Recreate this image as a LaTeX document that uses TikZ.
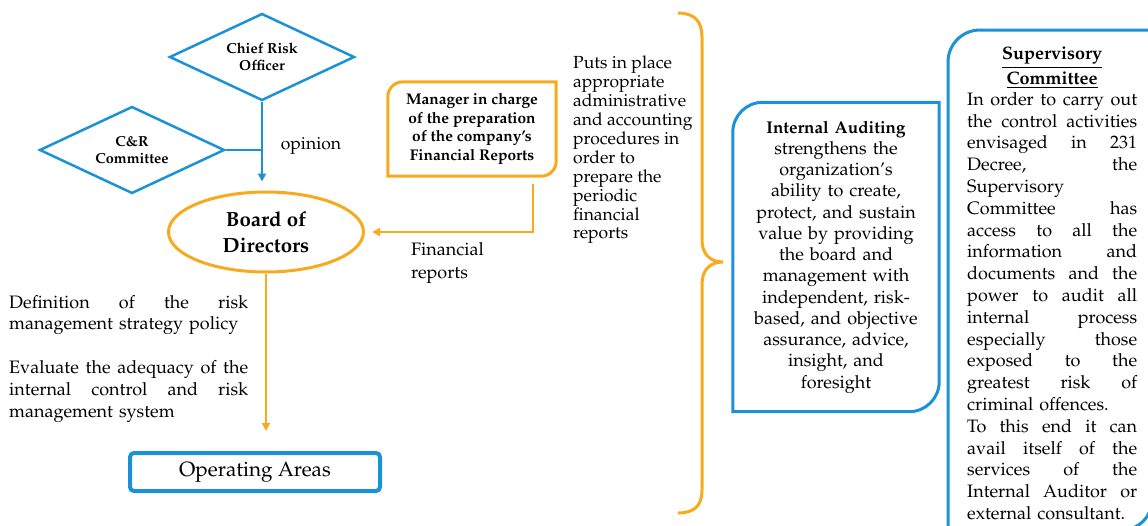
\documentclass[tikz,border=0pt]{standalone}
\usepackage[T1]{fontenc}
\usepackage{mathpazo}
\usepackage{xcolor}
\usetikzlibrary{shapes.geometric,arrows.meta}
\definecolor{riskblue}{RGB}{28,146,214}
\definecolor{riskorange}{RGB}{247,170,30}
\newcommand{\fs}[2]{\fontsize{#1}{#2}\selectfont}
\newcommand{\jline}[1]{\makebox[\hsize][s]{\spaceskip=0pt\xspaceskip=0pt #1}\\}
\begin{document}
\begin{tikzpicture}[x=1pt, y=-1pt, >={Triangle[length=8pt,width=8pt]},
    bluediamond/.style={diamond, draw=riskblue, line width=2.5pt, aspect=2.1, minimum width=185pt, minimum height=87pt, inner sep=0pt, align=center, font=\bfseries\fs{14.5}{17.5}},
    bluearrow/.style={draw=riskblue, line width=2pt, ->},
    orangearrow/.style={draw=riskorange, line width=2.5pt, ->},
    bodytext/.style={inner sep=0pt, align=left},
    frame/.style={line width=3pt}]
    \useasboundingbox (0,0) rectangle (1148,525);

    % left column
    \node[bluediamond] (cro) at (262,57) {Chief Risk\\Officer};
    \node[bluediamond] (cr) at (132,150) {C\&R\\Committee};
    \node[ellipse, draw=riskorange, line width=3pt, minimum width=195pt, minimum height=80pt, inner sep=0pt, align=center, font=\bfseries\fs{20.5}{26}] (board) at (266,232) {Board of\\Directors};
    \node[draw=riskblue, line width=4pt, rounded corners=4pt, minimum width=250pt, minimum height=38pt, font=\fs{20.7}{23}] (ops) at (255,472) {Operating Areas};
    \draw[bluearrow, shorten >=9pt] (cro.south) -- (cro.south |- board.north);
    \draw[riskblue, line width=2pt] (cr.east) -- (cr.east -| cro.south);
    \node[font=\fs{17.5}{21}] (opinion) at (311,146) {opinion};
    \draw[orangearrow, shorten >=20pt] (board.south) -- (board.south |- ops.north);
    \node[bodytext, anchor=north west, text width=239pt, font=\fs{18}{21.7}] (strategy) at (9,295) {\jline{Definition of the risk}management strategy policy\\[22pt]\jline{Evaluate the adequacy of the}\jline{internal control and risk}management system};

    % manager and financial reports
    \node[inner sep=0pt, minimum width=168pt, minimum height=94pt, align=center, font=\bfseries\fs{15.5}{18.6}] (mgr) at (472,129) {Manager in charge\\of the preparation\\of the company's\\Financial Reports};
    \draw[riskorange, frame] (mgr.west) [rounded corners=15pt] -- (mgr.north west) [sharp corners] -- (mgr.north east) [rounded corners=15pt] -- (mgr.south east) [sharp corners] -- (mgr.south west) -- cycle;
    \draw[orangearrow, shorten <=8pt, shorten >=7pt] ([xshift=-23pt]mgr.south east) |- (board.east);
    \node[bodytext, anchor=north west, font=\fs{18}{23}] (finrep) at (411,242) {Financial\\reports};
    \node[bodytext, anchor=north west, font=\fs{17.5}{18.9}] (puts) at (573,56) {Puts in place\\appropriate\\administrative\\and accounting\\procedures in\\order to\\prepare the\\periodic\\financial\\reports};

    % brace
    \draw[riskorange, line width=3pt] (678,13) .. controls (695,13) and (702,22) .. (702,37) -- (702,240) .. controls (702,254) and (710,262) .. (723,262) .. controls (710,262) and (702,270) .. (702,284) -- (702,490) .. controls (702,505) and (695,513) .. (678,513);

    % internal auditing
    \node[inner sep=0pt, minimum width=206pt, minimum height=309pt, text width=200pt, align=center, font=\fs{18}{21.25}] (ia) at (836,257) {{\bfseries\fontsize{17}{21.25}\selectfont Internal Auditing}\\strengthens the\\organization's\\ability to create,\\protect, and sustain\\value by providing\\the board and\\management with\\independent, risk-\\based, and objective\\assurance, advice,\\insight, and\\foresight};
    \draw[riskblue, frame] (ia.west) [rounded corners=30pt] -- (ia.north west) [sharp corners] -- (ia.north east) [rounded corners=30pt] -- (ia.south east) [sharp corners] -- (ia.south west) -- cycle;

    % supervisory committee
    \draw[riskblue, frame] (948,545) [rounded corners=32pt] -- (948,30) [sharp corners] -- (1152,30) [rounded corners=30pt] -- (1152,530) [sharp corners] -- (940,530);
    \node[inner sep=0pt, anchor=north, align=center, font=\bfseries\fs{18}{25}] (sctitle) at (1052,47) {\underline{Supervisory}\\\underline{Committee}};
    \node[bodytext, anchor=north west, text width=170pt, font=\fs{18}{21.8}] (scbody) at (967,92) {\jline{In order to carry out}\jline{the control activities}\jline{envisaged in 231}\jline{Decree, the}Supervisory\\\jline{Committee has}\jline{access to all the}\jline{information and}\jline{documents and the}\jline{power to audit all}\jline{internal process}\jline{especially those}\jline{exposed to the}\jline{greatest risk of}criminal offences.\\\jline{To this end it can}\jline{avail itself of the}\jline{services of the}\jline{Internal Auditor or}external consultant.};
\end{tikzpicture}
\end{document}
